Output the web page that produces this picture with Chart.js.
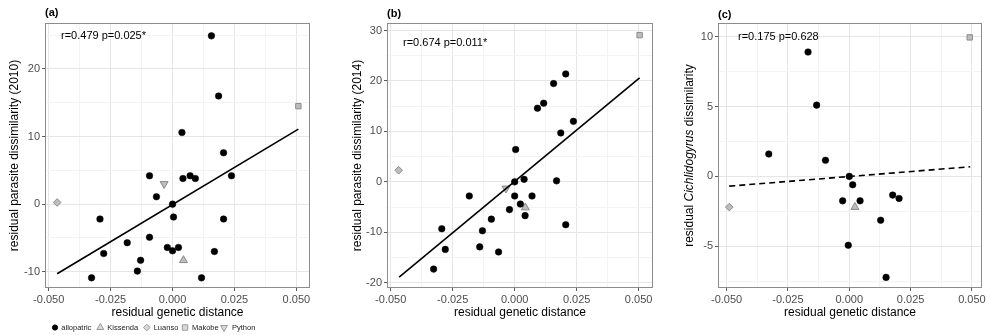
<!DOCTYPE html>
<html><head><meta charset="utf-8">
<script src="https://cdn.jsdelivr.net/npm/chart.js@4/dist/chart.umd.min.js"></script>
<style>
html,body{margin:0;padding:0;background:#fff;}
#wrap{position:relative;width:991px;height:335px;overflow:hidden;background:#fff;}
canvas{position:absolute;top:0;}
</style></head><body>
<div id="wrap">
<canvas id="ca" width="330" height="335" style="left:0px"></canvas>
<canvas id="cb" width="330" height="335" style="left:330px"></canvas>
<canvas id="cc" width="331" height="335" style="left:660px"></canvas>
</div>
<script>
// ---------------- DATA ----------------
const xMajorTicks = [-0.05, -0.025, 0, 0.025, 0.05];
const xMinorTicks = [-0.0375, -0.0125, 0.0125, 0.0375];

const legendLabels = ['allopatric', 'Kissenda', 'Luanso', 'Makobe', 'Python'];

// Panel (a): parasite dissimilarity 2010
const aAlloX = [0.0157, 0.0186, 0.0038, 0.0206, -0.0293, -0.0278, -0.0327, -0.0183, -0.0093, -0.0093, -0.0129, -0.0142, -0.0065, 0.0000, 0.0004, -0.0021, 0.0000, 0.0024, 0.0042, 0.0071, 0.0092, 0.0117, 0.0169, 0.0206, 0.0238];
const aAlloY = [24.9, 16.0, 10.6, 7.6, -2.2, -7.3, -10.9, -5.7, 4.2, -4.9, -8.3, -9.9, 1.1, 0.0, -1.9, -6.4, -6.9, -6.4, 3.8, 4.2, 3.8, -10.9, -7.0, -2.2, 4.2];
const aKisX = [0.0044], aKisY = [-8.3];
const aLuaX = [-0.0466], aLuaY = [0.25];
const aMakX = [0.0508], aMakY = [14.5];
const aPytX = [-0.0034], aPytY = [3.0];
const aLineX = [-0.0466, 0.0508], aLineY = [-10.3, 11.1];
const aYMajor = [-10, 0, 10, 20];
const aYMinor = [-5, 5, 15, 25];

// Panel (b): parasite dissimilarity 2014
const bAlloX = [0.0206, 0.0157, 0.0117, 0.0092, 0.0237, 0.0186, 0.0004, 0.0000, 0.0038, 0.0169, -0.0183, 0.0000, 0.0070, 0.0023, -0.0021, 0.0042, -0.0094, 0.0206, -0.0294, -0.0130, -0.0141, -0.0280, -0.0065, -0.0327];
const bAlloY = [21.4, 19.5, 15.6, 14.6, 12.0, 9.7, 6.4, 0.0, 0.5, 0.2, -2.8, -2.8, -2.8, -4.4, -5.5, -6.7, -7.4, -8.5, -9.3, -9.7, -12.9, -13.4, -13.9, -17.3];
const bKisX = [0.0043], bKisY = [-5.1];
const bLuaX = [-0.0468], bLuaY = [2.3];
const bMakX = [0.0504], bMakY = [29.1];
const bPytX = [-0.0035], bPytY = [-1.3];
const bLineX = [-0.0466, 0.0504], bLineY = [-18.9, 20.6];
const bYMajor = [-20, -10, 0, 10, 20, 30];
const bYMinor = [-15, -5, 5, 15, 25];

// Panel (c): Cichlidogyrus dissimilarity
const cAlloX = [-0.0168, -0.0133, -0.0328, -0.0097, 0.0000, 0.0014, -0.0027, 0.0044, 0.0177, 0.0203, 0.0128, -0.0004, 0.0150];
const cAlloY = [8.9, 5.1, 1.6, 1.15, 0.0, -0.6, -1.75, -1.75, -1.34, -1.58, -3.14, -4.93, -7.23];
const cKisX = [0.0023], cKisY = [-2.2];
const cLuaX = [-0.0489], cLuaY = [-2.2];
const cMakX = [0.0491], cMakY = [9.95];
const cPytX = [], cPytY = [];
const cLineX = [-0.0489, 0.0493], cLineY = [-0.7, 0.69];
const cYMajor = [-5, 0, 5, 10];
const cYMinor = [-7.5, -2.5, 2.5, 7.5];

// ---------------- RENDERING ----------------
const FONT = "'Liberation Sans', Arial, Helvetica, sans-serif";
const H = 335;
const GREY_FILL = '#bdbdbd', GREY_LINE = '#8a8a8a';

function pts(xs, ys) { return xs.map((x, i) => ({x: x, y: ys[i]})); }
function mergeTicks(maj, min) {
  return maj.map(v => ({value: v, isMajor: true}))
    .concat(min.map(v => ({value: v, isMajor: false})))
    .sort((a, b) => a.value - b.value);
}

function drawSym(ctx, style, x, y, r, fill, stroke) {
  ctx.save();
  ctx.fillStyle = fill; ctx.strokeStyle = stroke; ctx.lineWidth = 1;
  ctx.beginPath();
  if (style === 'circle') { ctx.arc(x, y, r, 0, Math.PI * 2); }
  else if (style === 'triangle') { ctx.moveTo(x, y - r); ctx.lineTo(x + r * 0.866, y + r * 0.5); ctx.lineTo(x - r * 0.866, y + r * 0.5); ctx.closePath(); }
  else if (style === 'invtriangle') { ctx.moveTo(x, y + r); ctx.lineTo(x + r * 0.866, y - r * 0.5); ctx.lineTo(x - r * 0.866, y - r * 0.5); ctx.closePath(); }
  else if (style === 'diamond') { ctx.moveTo(x, y - r); ctx.lineTo(x + r, y); ctx.lineTo(x, y + r); ctx.lineTo(x - r, y); ctx.closePath(); }
  else if (style === 'square') { const s = r * 0.75; ctx.rect(x - s, y - s, 2 * s, 2 * s); }
  ctx.fill(); ctx.stroke();
  ctx.restore();
}

const panelPlugin = {
  id: 'panel',
  afterDraw(chart, args, o) {
    const ctx = chart.ctx, ca = chart.chartArea;
    ctx.save();
    // panel border
    ctx.strokeStyle = '#8c8c8c'; ctx.lineWidth = 1;
    ctx.strokeRect(Math.round(ca.left) + 0.5, Math.round(ca.top) + 0.5, Math.round(ca.right - ca.left) - 1, Math.round(ca.bottom - ca.top) - 1);
    // panel label
    ctx.fillStyle = '#000';
    ctx.font = 'bold 11px ' + FONT;
    ctx.textAlign = 'left'; ctx.textBaseline = 'middle';
    ctx.fillText(o.label, ca.left, o.labelY);
    // annotation
    ctx.font = '11px ' + FONT;
    ctx.fillText(o.annot, ca.left + o.annotDx, o.annotY);
    // custom y title (mixed italic)
    if (o.yTitleParts) {
      const cy = (ca.top + ca.bottom) / 2;
      ctx.translate(o.yTitleX, cy);
      ctx.rotate(-Math.PI / 2);
      let total = 0;
      o.yTitleParts.forEach(p => { ctx.font = (p.italic ? 'italic ' : '') + '12px ' + FONT; p.w = ctx.measureText(p.t).width; total += p.w; });
      let x = -total / 2;
      ctx.textAlign = 'left';
      o.yTitleParts.forEach(p => { ctx.font = (p.italic ? 'italic ' : '') + '12px ' + FONT; ctx.fillText(p.t, x, 0); x += p.w; });
      ctx.setTransform(1, 0, 0, 1, 0, 0);
    }
    // legend
    if (o.legend) {
      const y = 327.5;
      const items = [
        {s: 'circle', x: 55, tx: 61.3, f: '#000', st: '#000', r: 2.6},
        {s: 'triangle', x: 100.3, tx: 107.3, f: '#d9d9d9', st: '#9a9a9a', r: 4},
        {s: 'diamond', x: 146.7, tx: 153.7, f: '#d9d9d9', st: '#9a9a9a', r: 3.3},
        {s: 'square', x: 185, tx: 192, f: '#d9d9d9', st: '#9a9a9a', r: 3.6},
        {s: 'invtriangle', x: 224, tx: 232, f: '#d9d9d9', st: '#9a9a9a', r: 4}
      ];
      ctx.font = '7.5px ' + FONT;
      ctx.textAlign = 'left'; ctx.textBaseline = 'middle';
      items.forEach((it, i) => {
        drawSym(ctx, it.s, it.x, y, it.r, it.f, it.st);
        ctx.fillStyle = '#222';
        ctx.fillText(legendLabels[i], it.tx, y + 0.5);
      });
    }
    ctx.restore();
  }
};

function makeChart(id, cw, p) {
  const datasets = [
    {type: 'line', data: pts(p.lineX, p.lineY), borderColor: '#000', borderWidth: 1.6, borderDash: p.dashed ? [6, 4] : [], pointRadius: 0, fill: false, order: 0},
    {type: 'scatter', data: pts(p.alloX, p.alloY), pointStyle: 'circle', pointRadius: 3.3, backgroundColor: '#000', borderColor: '#000', borderWidth: 0.5, order: 1},
    {type: 'scatter', data: pts(p.kisX, p.kisY), pointStyle: 'triangle', pointRadius: 4.6, backgroundColor: GREY_FILL, borderColor: GREY_LINE, borderWidth: 1, order: 1},
    {type: 'scatter', data: pts(p.luaX, p.luaY), pointStyle: 'rectRot', pointRadius: 3.8, backgroundColor: GREY_FILL, borderColor: GREY_LINE, borderWidth: 1, order: 1},
    {type: 'scatter', data: pts(p.makX, p.makY), pointStyle: 'rect', pointRadius: 3.8, backgroundColor: GREY_FILL, borderColor: GREY_LINE, borderWidth: 1, order: 1},
    {type: 'scatter', data: pts(p.pytX, p.pytY), pointStyle: 'triangle', rotation: 180, pointRotation: 180, pointRadius: 4.6, backgroundColor: GREY_FILL, borderColor: GREY_LINE, borderWidth: 1, order: 1}
  ];
  const gridColor = c => (c.tick && c.tick.isMajor) ? '#e6e6e6' : '#f3f3f3';
  const tickColor = c => (c.tick && c.tick.isMajor) ? '#5a5a5a' : 'rgba(0,0,0,0)';
  return new Chart(document.getElementById(id), {
    data: {datasets: datasets},
    plugins: [panelPlugin],
    options: {
      responsive: false, animation: false, devicePixelRatio: 1,
      layout: {padding: {left: 0, top: p.area.top, right: cw - p.area.right, bottom: 0}},
      plugins: {
        legend: {display: false}, tooltip: {enabled: false},
        panel: {label: p.label, labelY: p.labelY, annot: p.annot, annotDx: p.annotDx, annotY: p.annotY, yTitleParts: p.yTitleParts, yTitleX: p.yTitleX, legend: p.legend}
      },
      scales: {
        x: {
          type: 'linear', position: 'bottom', min: p.xMin, max: p.xMax,
          afterBuildTicks: s => { s.ticks = mergeTicks(xMajorTicks, xMinorTicks); },
          afterFit: s => { s.height = H - p.area.bottom; },
          ticks: {autoSkip: false, maxRotation: 0, minRotation: 0, padding: 2, color: '#4d4d4d', font: {family: FONT, size: 11},
            callback: (v, i, t) => t[i].isMajor ? Number(v).toFixed(3) : ''},
          grid: {color: gridColor, lineWidth: 1, drawTicks: true, tickLength: 3, tickColor: tickColor, tickWidth: 1},
          border: {display: false},
          title: {display: true, text: 'residual genetic distance', color: '#000', font: {family: FONT, size: 12}, padding: {top: 0, bottom: 15}}
        },
        y: {
          type: 'linear', position: 'left', min: p.yMin, max: p.yMax,
          afterBuildTicks: s => { s.ticks = mergeTicks(p.yMajor, p.yMinor); },
          afterFit: s => { s.width = p.area.left; },
          ticks: {autoSkip: false, padding: 2, color: '#4d4d4d', font: {family: FONT, size: 11},
            callback: (v, i, t) => t[i].isMajor ? String(v) : ''},
          grid: {color: gridColor, lineWidth: 1, drawTicks: true, tickLength: 3, tickColor: tickColor, tickWidth: 1},
          border: {display: false},
          title: {display: !!p.yTitle, text: p.yTitle || '', color: '#000', font: {family: FONT, size: 12}, padding: {top: p.yTitlePad, bottom: 0}}
        }
      }
    }
  });
}

makeChart('ca', 330, {
  alloX: aAlloX, alloY: aAlloY, kisX: aKisX, kisY: aKisY, luaX: aLuaX, luaY: aLuaY, makX: aMakX, makY: aMakY, pytX: aPytX, pytY: aPytY,
  lineX: aLineX, lineY: aLineY, dashed: false,
  xMin: -0.0515, xMax: 0.0555, yMin: -12.4, yMax: 26.8, yMajor: aYMajor, yMinor: aYMinor,
  area: {left: 45, top: 23, right: 310, bottom: 288},
  yTitle: 'residual parasite dissimilarity (2010)', yTitlePad: 7.8,
  label: '(a)', labelY: 13.3, annot: 'r=0.479 p=0.025*', annotDx: 16, annotY: 35.7, legend: true
});
makeChart('cb', 330, {
  alloX: bAlloX, alloY: bAlloY, kisX: bKisX, kisY: bKisY, luaX: bLuaX, luaY: bLuaY, makX: bMakX, makY: bMakY, pytX: bPytX, pytY: bPytY,
  lineX: bLineX, lineY: bLineY, dashed: false,
  xMin: -0.0515, xMax: 0.0558, yMin: -21.05, yMax: 31.5, yMajor: bYMajor, yMinor: bYMinor,
  area: {left: 57, top: 23, right: 323, bottom: 288},
  yTitle: 'residual parasite dissimilarity (2014)', yTitlePad: 20.3,
  label: '(b)', labelY: 14, annot: 'r=0.674 p=0.011*', annotDx: 16, annotY: 42.7, legend: false
});
makeChart('cc', 331, {
  alloX: cAlloX, alloY: cAlloY, kisX: cKisX, kisY: cKisY, luaX: cLuaX, luaY: cLuaY, makX: cMakX, makY: cMakY, pytX: cPytX, pytY: cPytY,
  lineX: cLineX, lineY: cLineY, dashed: true,
  xMin: -0.0535, xMax: 0.0541, yMin: -7.99, yMax: 10.98, yMajor: cYMajor, yMinor: cYMinor,
  area: {left: 58, top: 23, right: 322, bottom: 288},
  yTitle: '', yTitlePad: 0,
  yTitleParts: [{t: 'residual ', italic: false}, {t: 'Cichlidogyrus', italic: true}, {t: ' dissimilarity', italic: false}], yTitleX: 29.5,
  label: '(c)', labelY: 15, annot: 'r=0.175 p=0.628', annotDx: 20, annotY: 36.7, legend: false
});
</script>
</body></html>
